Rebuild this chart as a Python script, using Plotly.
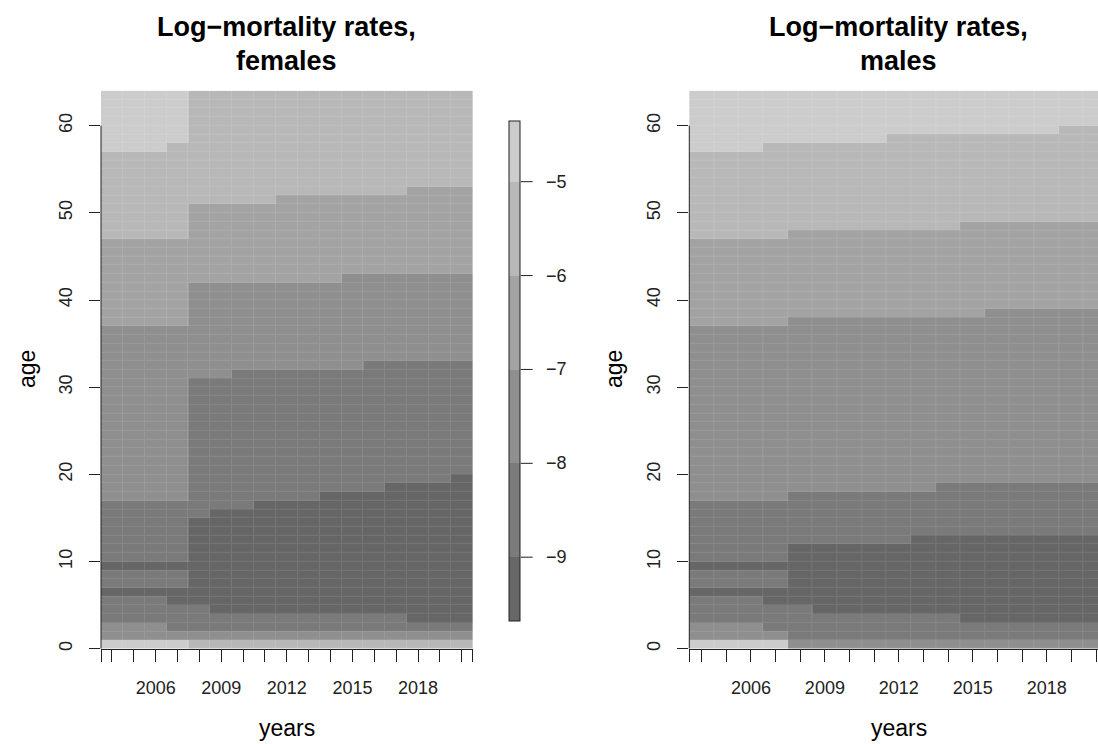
import plotly.graph_objects as go

# ---------------- data ----------------
YEARS = list(range(2004, 2021))
AGES = list(range(0, 64))
X_LABEL_YEARS = [2006, 2009, 2012, 2015, 2018]
Y_TICKS = [0, 10, 20, 30, 40, 50, 60]
CBAR_TICKS = [-9, -8, -7, -6, -5]
Z_MIN, Z_MAX = -9.68, -4.35

# estimated log-mortality value of each grey level
LEVEL_VALUE = {"1": -9.35, "2": -8.5, "3": -7.5, "4": -6.5, "5": -5.5, "6": -4.7}

# one string per age, from age 63 (top) down to age 0; one char per year 2004..2020
FEMALES = [
    "66665555555555555",  # 63
    "66665555555555555",  # 62
    "66665555555555555",  # 61
    "66665555555555555",  # 60
    "66665555555555555",  # 59
    "66665555555555555",  # 58
    "66655555555555555",  # 57
    "55555555555555555",  # 56
    "55555555555555555",  # 55
    "55555555555555555",  # 54
    "55555555555555555",  # 53
    "55555555555555444",  # 52
    "55555555444444444",  # 51
    "55554444444444444",  # 50
    "55554444444444444",  # 49
    "55554444444444444",  # 48
    "55554444444444444",  # 47
    "44444444444444444",  # 46
    "44444444444444444",  # 45
    "44444444444444444",  # 44
    "44444444444444444",  # 43
    "44444444444333333",  # 42
    "44443333333333333",  # 41
    "44443333333333333",  # 40
    "44443333333333333",  # 39
    "44443333333333333",  # 38
    "44443333333333333",  # 37
    "33333333333333333",  # 36
    "33333333333333333",  # 35
    "33333333333333333",  # 34
    "33333333333333333",  # 33
    "33333333333322222",  # 32
    "33333322222222222",  # 31
    "33332222222222222",  # 30
    "33332222222222222",  # 29
    "33332222222222222",  # 28
    "33332222222222222",  # 27
    "33332222222222222",  # 26
    "33332222222222222",  # 25
    "33332222222222222",  # 24
    "33332222222222222",  # 23
    "33332222222222222",  # 22
    "33332222222222222",  # 21
    "33332222222222222",  # 20
    "33332222222222221",  # 19
    "33332222222221111",  # 18
    "33332222221111111",  # 17
    "22222221111111111",  # 16
    "22222111111111111",  # 15
    "22221111111111111",  # 14
    "22221111111111111",  # 13
    "22221111111111111",  # 12
    "22221111111111111",  # 11
    "22221111111111111",  # 10
    "11111111111111111",  # 9
    "22221111111111111",  # 8
    "22221111111111111",  # 7
    "11111111111111111",  # 6
    "22211111111111111",  # 5
    "22222111111111111",  # 4
    "22222222222222111",  # 3
    "33322222222222222",  # 2
    "33333333333333333",  # 1
    "66665555555555555",  # 0
]

MALES = [
    "66666666666666666",  # 63
    "66666666666666666",  # 62
    "66666666666666666",  # 61
    "66666666666666666",  # 60
    "66666666666666655",  # 59
    "66666666555555555",  # 58
    "66655555555555555",  # 57
    "55555555555555555",  # 56
    "55555555555555555",  # 55
    "55555555555555555",  # 54
    "55555555555555555",  # 53
    "55555555555555555",  # 52
    "55555555555555555",  # 51
    "55555555555555555",  # 50
    "55555555555555555",  # 49
    "55555555555444444",  # 48
    "55554444444444444",  # 47
    "44444444444444444",  # 46
    "44444444444444444",  # 45
    "44444444444444444",  # 44
    "44444444444444444",  # 43
    "44444444444444444",  # 42
    "44444444444444444",  # 41
    "44444444444444444",  # 40
    "44444444444444444",  # 39
    "44444444444433333",  # 38
    "44443333333333333",  # 37
    "33333333333333333",  # 36
    "33333333333333333",  # 35
    "33333333333333333",  # 34
    "33333333333333333",  # 33
    "33333333333333333",  # 32
    "33333333333333333",  # 31
    "33333333333333333",  # 30
    "33333333333333333",  # 29
    "33333333333333333",  # 28
    "33333333333333333",  # 27
    "33333333333333333",  # 26
    "33333333333333333",  # 25
    "33333333333333333",  # 24
    "33333333333333333",  # 23
    "33333333333333333",  # 22
    "33333333333333333",  # 21
    "33333333333333333",  # 20
    "33333333333333333",  # 19
    "33333333332222222",  # 18
    "33332222222222222",  # 17
    "22222222222222222",  # 16
    "22222222222222222",  # 15
    "22222222222222222",  # 14
    "22222222222222222",  # 13
    "22222222211111111",  # 12
    "22221111111111111",  # 11
    "22221111111111111",  # 10
    "11111111111111111",  # 9
    "22221111111111111",  # 8
    "22221111111111111",  # 7
    "11111111111111111",  # 6
    "22211111111111111",  # 5
    "22222111111111111",  # 4
    "22222222222111111",  # 3
    "33322222222222222",  # 2
    "33332222222222222",  # 1
    "66663333333333333",  # 0
]

# ---------------- styling ----------------
W, H = 1098, 744
BIN_EDGES = [Z_MIN, -9, -8, -7, -6, -5, Z_MAX]
BIN_COLORS = ["#676767", "#7b7b7b", "#8f8f8f", "#a3a3a3", "#b8b8b8", "#cccccc"]
colorscale = []
for i, c in enumerate(BIN_COLORS):
    lo = (BIN_EDGES[i] - Z_MIN) / (Z_MAX - Z_MIN)
    hi = (BIN_EDGES[i + 1] - Z_MIN) / (Z_MAX - Z_MIN)
    colorscale += [[lo, c], [hi, c]]


def to_matrix(rows):
    assert len(rows) == len(AGES)
    mat = []
    for r in reversed(rows):  # age 0 first
        assert len(r) == len(YEARS)
        mat.append([LEVEL_VALUE[ch] for ch in r])
    return mat


FONT = "Liberation Sans, Arial, sans-serif"
INK = "#222222"
fig = go.Figure()
y_centers = [a + 0.5 for a in AGES]

# colour bar geometry (pixels)
CB_LEFT, CB_TOP, CB_BOTTOM, CB_THICK = 509.3, 121.0, 622.7, 11.4
CB_TICKLEN = 12

for k, rows in enumerate([FEMALES, MALES]):
    z = to_matrix(rows)
    xa = "x" if k == 0 else "x2"
    ya = "y" if k == 0 else "y2"
    # base layer with 1px gaps (gives the faint seams between cells)
    fig.add_trace(go.Heatmap(
        z=z, x=YEARS, y=y_centers, xaxis=xa, yaxis=ya,
        colorscale=colorscale, zmin=Z_MIN, zmax=Z_MAX,
        xgap=1, ygap=1, hoverinfo="skip",
        showscale=(k == 0),
        colorbar=dict(
            x=CB_LEFT / W, xanchor="left", xpad=0, ypad=0,
            y=(H - (CB_TOP + CB_BOTTOM) / 2) / H, yanchor="middle",
            len=(CB_BOTTOM - CB_TOP) / H, lenmode="fraction",
            thickness=CB_THICK, thicknessmode="pixels",
            outlinewidth=1, outlinecolor=INK,
            tickvals=CBAR_TICKS, showticklabels=False, ticks="",
        ),
    ))
    fig.add_trace(go.Heatmap(
        z=z, x=YEARS, y=y_centers, xaxis=xa, yaxis=ya,
        colorscale=colorscale, zmin=Z_MIN, zmax=Z_MAX,
        opacity=0.9, hoverinfo="skip", showscale=False,
    ))

# colour bar ticks and labels
for v in CBAR_TICKS:
    ypix = CB_BOTTOM - (v - Z_MIN) / (Z_MAX - Z_MIN) * (CB_BOTTOM - CB_TOP)
    yp = (H - ypix) / H
    x0 = (CB_LEFT + CB_THICK) / W
    fig.add_shape(type="line", xref="paper", yref="paper",
                  x0=x0, x1=x0 + CB_TICKLEN / W, y0=yp, y1=yp,
                  line=dict(color=INK, width=1))
    fig.add_annotation(x=544 / W, y=yp, xref="paper", yref="paper",
                       text="\u2212" + str(abs(v)), showarrow=False,
                       xanchor="left", yanchor="middle",
                       font=dict(family=FONT, size=18, color=INK))

x_tickvals = [YEARS[0] - 0.5] + YEARS + [YEARS[-1] + 0.5]
x_ticktext = [str(v) if v in X_LABEL_YEARS else "" for v in x_tickvals]

common_x = dict(
    tickvals=x_tickvals, ticktext=x_ticktext, ticks="outside", ticklen=12,
    tickwidth=1, tickcolor=INK, showline=True, linecolor=INK,
    linewidth=1, showgrid=False, zeroline=False, ticklabelstandoff=11,
    tickfont=dict(family=FONT, size=18, color=INK),
)
common_y = dict(
    range=[0, 64], tickvals=Y_TICKS, ticktext=[str(v) for v in Y_TICKS],
    tickangle=-90, ticks="outside", ticklen=11, tickwidth=1,
    tickcolor=INK, showline=False, showgrid=False, zeroline=False,
    ticklabelstandoff=10,
    tickfont=dict(family=FONT, size=18, color=INK),
    domain=[(H - 650.5) / H, (H - 91.0) / H],
)

F_L, F_R = 101.0, 472.7
M_L, M_YEAR = 689.3, 24.65
fig.update_layout(
    width=W, height=H, margin=dict(l=0, r=0, t=0, b=0),
    paper_bgcolor="white", plot_bgcolor="white", showlegend=False,
    xaxis=dict(domain=[F_L / W, F_R / W], range=[YEARS[0] - 0.5, YEARS[-1] + 0.5],
               anchor="y", **common_x),
    yaxis=dict(anchor="x", **common_y),
    xaxis2=dict(domain=[M_L / W, 1.0],
                range=[YEARS[0] - 0.5, YEARS[0] - 0.5 + (W - M_L) / M_YEAR],
                anchor="y2", **common_x),
    yaxis2=dict(anchor="x2", **common_y),
)

# y axis lines span only from first to last tick (as in base R)
for xr, yr in [("x domain", "y"), ("x2 domain", "y2")]:
    fig.add_shape(type="line", xref=xr, yref=yr, x0=0, x1=0,
                  y0=Y_TICKS[0], y1=Y_TICKS[-1],
                  line=dict(color=INK, width=1))

f_cx = (F_L + F_R) / 2
m_cx = M_L + 17 * M_YEAR / 2
for cx, sex, age_x in [(f_cx, "females", 27), (m_cx, "males", 614)]:
    fig.add_annotation(x=cx / W, y=(H - 27) / H, xref="paper", yref="paper",
                       text="<b>Log\u2212mortality rates,</b>", showarrow=False,
                       xanchor="center", yanchor="middle",
                       font=dict(family=FONT, size=27, color="black"))
    fig.add_annotation(x=cx / W, y=(H - 61.5) / H, xref="paper", yref="paper",
                       text="<b>" + sex + "</b>", showarrow=False,
                       xanchor="center", yanchor="middle",
                       font=dict(family=FONT, size=27, color="black"))
    fig.add_annotation(x=cx / W, y=(H - 730) / H, xref="paper", yref="paper",
                       text="years", showarrow=False,
                       xanchor="center", yanchor="middle",
                       font=dict(family=FONT, size=23, color="black"))
    fig.add_annotation(x=age_x / W, y=(H - 370) / H, xref="paper", yref="paper",
                       text="age", showarrow=False, textangle=-90,
                       xanchor="center", yanchor="middle",
                       font=dict(family=FONT, size=23, color="black"))

fig.write_html("out.html")
